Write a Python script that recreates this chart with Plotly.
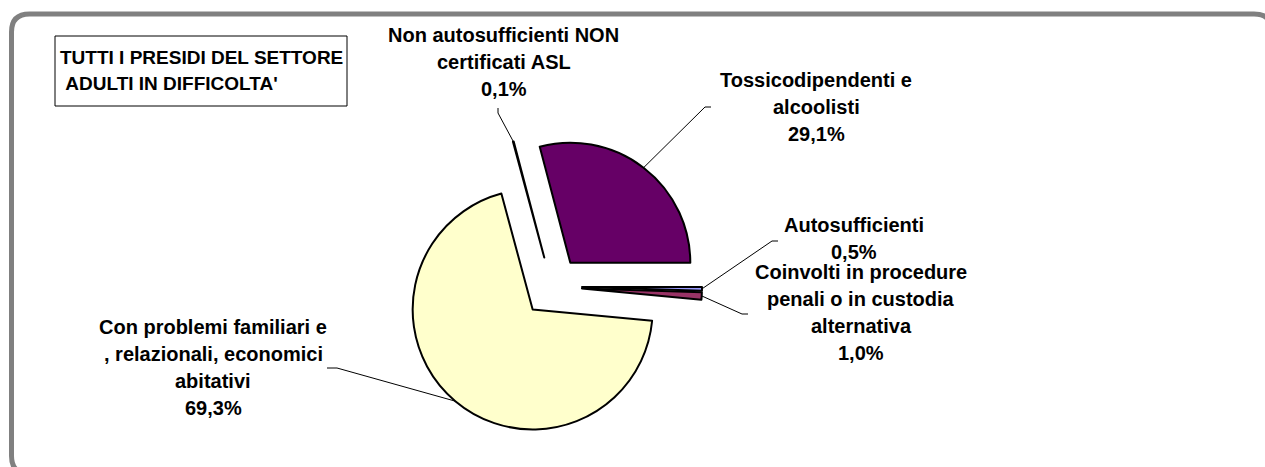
import math
import plotly.graph_objects as go

W, H = 1265, 467

# ---- data -------------------------------------------------------------
categories = [
    "Autosufficienti",
    "Coinvolti in procedure\npenali o in custodia\nalternativa",
    "Con problemi familiari e\n, relazionali, economici\nabitativi",
    "Non autosufficienti NON\ncertificati ASL",
    "Tossicodipendenti e\nalcoolisti",
]
values = [0.5, 1.0, 69.3, 0.1, 29.1]
colors = ["#9999FF", "#993366", "#FFFFCC", "#CCFFFF", "#660066"]

title_lines = ["TUTTI I PRESIDI DEL SETTORE", "\u00a0ADULTI IN DIFFICOLTA'"]

# ---- layout constants (pixels) ---------------------------------------
CX, CY = 552, 286.5        # pie centre
R = 120                    # pie radius
PULL = 0.25                # explode fraction
BOX = R * (1 + PULL)       # half-size of the pie domain

FONT = "Liberation Sans, Arial, sans-serif"
TITLE_SIZE = 19
LABEL_SIZE = 20
LINE_H = 27

# label block: centre x, first line y
label_x = [854, 861, 213, 504, 816]
label_y0 = [225, 272, 327, 35, 80]
# leader line elbow and its short horizontal end
elbow = [(772, 241), (742, 314), (337, 368), (498, 113), (705, 107)]
elbow_end = [(778, 241), (748, 314), (327, 368), (498, 108), (711, 107)]


def px(x, y):
    return x / W, 1 - y / H


def fmt_pct(v):
    return f"{v:.1f}%".replace(".", ",")


fig = go.Figure()

fig.add_trace(go.Pie(
    labels=[c.replace("\n", " ") for c in categories],
    values=values,
    sort=False,
    direction="clockwise",
    rotation=90,
    pull=PULL,
    marker=dict(colors=colors, line=dict(color="black", width=2)),
    textinfo="none",
    hoverinfo="label+percent",
    showlegend=False,
    domain=dict(
        x=[(CX - BOX) / W, (CX + BOX) / W],
        y=[1 - (CY + BOX) / H, 1 - (CY - BOX) / H],
    ),
))

shapes = []
annotations = []

# outer rounded frame (right and bottom sides run past the page edge)
L, T, Rt, B, rc = 11.5, 14, 1272, 474, 18
rx, ry = rc / W, rc / H
l, t = px(L, T)
r_, b = px(Rt, B)
frame = (
    f"M {l},{t - ry} Q {l},{t} {l + rx},{t} L {r_ - rx},{t} "
    f"Q {r_},{t} {r_},{t - ry} L {r_},{b + ry} Q {r_},{b} {r_ - rx},{b} "
    f"L {l + rx},{b} Q {l},{b} {l},{b + ry} Z"
)
shapes.append(dict(type="path", xref="paper", yref="paper", path=frame,
                   line=dict(color="#808080", width=5), layer="below"))

# title box
x0, y0 = px(55, 36)
x1, y1 = px(347, 106)
shapes.append(dict(type="rect", xref="paper", yref="paper",
                   x0=x0, y0=y1, x1=x1, y1=y0,
                   line=dict(color="black", width=1), fillcolor="white"))
for i, line in enumerate(title_lines):
    ax, ay = px(58, 57 + i * 26)
    annotations.append(dict(text=f"<b>{line}</b>", x=ax, y=ay, xref="paper", yref="paper",
                            xanchor="left", yanchor="middle", showarrow=False,
                            font=dict(family=FONT, size=TITLE_SIZE, color="black")))

# slice labels and leader lines
total = sum(values)
cum = 0.0
for i, (cat, v) in enumerate(zip(categories, values)):
    mid = -(cum + v / 2) / total * 2 * math.pi   # math angle, start at east, clockwise
    cum += v
    cxp = CX + PULL * R * math.cos(mid)
    cyp = CY - PULL * R * math.sin(mid)
    ex = cxp + R * math.cos(mid)
    ey = cyp - R * math.sin(mid)

    p0 = px(ex, ey)
    p1 = px(*elbow[i])
    p2 = px(*elbow_end[i])
    shapes.append(dict(type="path", xref="paper", yref="paper",
                       path=f"M {p0[0]},{p0[1]} L {p1[0]},{p1[1]} L {p2[0]},{p2[1]}",
                       line=dict(color="black", width=1)))

    lines = cat.split("\n") + [fmt_pct(v)]
    for j, line in enumerate(lines):
        ax, ay = px(label_x[i], label_y0[i] + j * LINE_H)
        annotations.append(dict(text=f"<b>{line}</b>", x=ax, y=ay, xref="paper", yref="paper",
                                xanchor="center", yanchor="middle", showarrow=False,
                                font=dict(family=FONT, size=LABEL_SIZE, color="black")))

fig.update_layout(
    width=W, height=H,
    margin=dict(l=0, r=0, t=0, b=0),
    paper_bgcolor="white",
    plot_bgcolor="white",
    shapes=shapes,
    annotations=annotations,
)

fig.write_html("out.html")
